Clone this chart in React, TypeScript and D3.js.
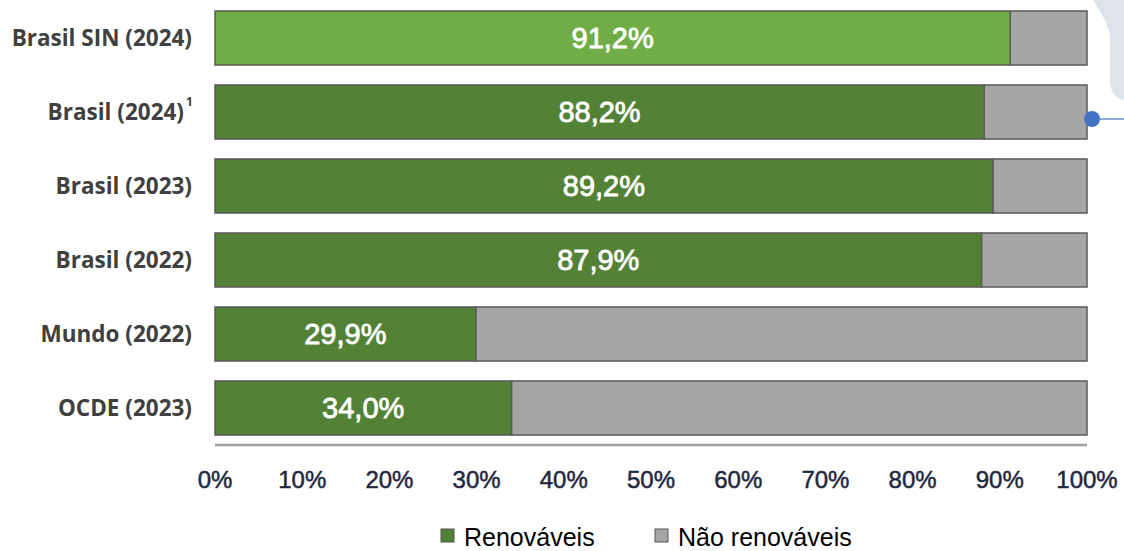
import React from "react";
import * as d3 from "d3";

const categories = ["Brasil SIN (2024)", "Brasil (2024)", "Brasil (2023)", "Brasil (2022)", "Mundo (2022)", "OCDE (2023)"];
const superscripts = ["", "1", "", "", "", ""];
const renovaveis = [91.2, 88.2, 89.2, 87.9, 29.9, 34.0];
const xTicks = [0, 10, 20, 30, 40, 50, 60, 70, 80, 90, 100];
const legendLabels = ["Renováveis", "Não renováveis"];

const W = 1124, H = 551;
const DARK_GREEN = "#538135";
const LIGHT_GREEN = "#70ad47";
const GRAY = "#a6a6a6";
const STROKE = "#5a5a5a";
const ARIAL = "'Liberation Sans', Arial, sans-serif";

export default function App() {
  const x = d3.scaleLinear().domain([0, 100]).range([215, 1087]);
  const y = d3.scaleBand().domain(categories).range([1, 445]).paddingInner(0.27).paddingOuter(0.135);
  const fmt = (v: number) => v.toFixed(1).replace(".", ",") + "%";
  return (
    <svg width={W} height={H} style={{ position: "absolute", left: 0, top: 0, background: "#fff" }}
      fontFamily={ARIAL}>
      {/* decorative shape top-right */}
      <path d="M1093,0 L1124,0 L1124,100 C1114,98 1110,90 1110,80 L1110,38 C1110,30 1104,16 1093,0 Z" fill="#dfe4ea" />
      <line x1={1092} x2={1124} y1={119} y2={119} stroke="#4472c4" strokeWidth={1.2} />
      {categories.map((c, i) => {
        const y0 = y(c)!;
        const bh = y.bandwidth();
        const v = renovaveis[i];
        return (
          <g key={c}>
            <rect x={x(v)} y={y0} width={x(100) - x(v)} height={bh} fill={GRAY} stroke={STROKE} strokeWidth={1.5} />
            <rect x={x(0)} y={y0} width={x(v) - x(0)} height={bh} fill={i === 0 ? LIGHT_GREEN : DARK_GREEN} stroke={STROKE} strokeWidth={1.5} />
            <text x={(x(0) + x(v)) / 2} y={y0 + bh / 2} dy="0.36em" textAnchor="middle" fill="#fff" fontSize={29}
              stroke="#fff" strokeWidth={0.8}>
              {fmt(v)}
            </text>
            <text x={superscripts[i] ? 184 : 192} y={y0 + bh / 2} dy="0.36em" textAnchor="end" fill="#404040" fontSize={22.5} fontWeight={700}
              fontFamily="'Open Sans', sans-serif">
              {c}
            </text>
            {superscripts[i] && (
              <text x={186} y={y0 + bh / 2 - 6} textAnchor="start" fill="#404040" fontSize={12} fontWeight={700}
                fontFamily="'Open Sans', sans-serif">{superscripts[i]}</text>
            )}
          </g>
        );
      })}
      <circle cx={1092} cy={119} r={8} fill="#4472c4" />
      <line x1={x(0)} x2={x(100)} y1={445} y2={445} stroke="#a0a0a0" strokeWidth={2.5} />
      {xTicks.map((t) => (
        <text key={t} x={x(t)} y={479} dy="0.36em" textAnchor="middle" fill="#1f2840" fontSize={24}
          stroke="#1f2840" strokeWidth={0.5}>
          {t}%
        </text>
      ))}
      <g>
        <rect x={441} y={529} width={13} height={13} fill={DARK_GREEN} stroke="#555" strokeWidth={1} />
        <text x={464} y={537} dy="0.36em" fill="#000" fontSize={25}>{legendLabels[0]}</text>
        <rect x={655} y={529} width={13} height={13} fill={GRAY} stroke="#555" strokeWidth={1} />
        <text x={678} y={537} dy="0.36em" fill="#000" fontSize={25}>{legendLabels[1]}</text>
      </g>
    </svg>
  );
}
